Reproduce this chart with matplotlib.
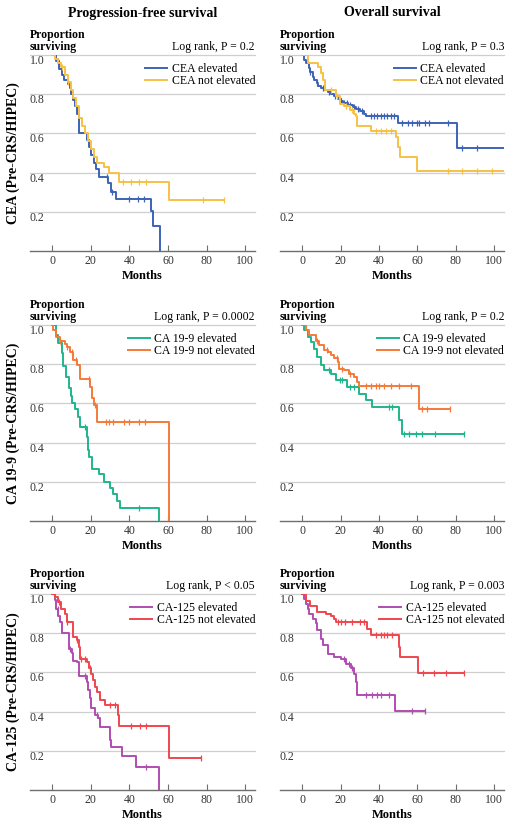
import numpy as np
import matplotlib
matplotlib.use("Agg")
import matplotlib.pyplot as plt

# --- Dane (czas [miesiące], odsetek przeżywających) ---
# PFS, CEA
pfs_cea_el_t = [2, 3.5, 5, 6, 8, 9, 9.5, 11, 12, 13, 13.8, 17.8, 18.8, 20, 21.5, 22.5, 24, 29, 30.5, 33, 51, 52.3, 55.7]
pfs_cea_el_s = [0.97, 0.93, 0.90, 0.87, 0.85, 0.83, 0.80, 0.77, 0.74, 0.70, 0.60, 0.565, 0.53, 0.49, 0.45, 0.42, 0.38, 0.345, 0.30, 0.265, 0.205, 0.13, 0.0]
pfs_cea_el_c = [3, 28.5, 31, 40, 44.5, 47.5]
pfs_cea_nel_t = [1.5, 3, 4.5, 6.5, 8, 9.5, 11, 12.5, 14, 15.5, 17, 18.5, 20, 21.5, 23, 27, 29.5, 34.5, 60.3]
pfs_cea_nel_s = [0.98, 0.96, 0.94, 0.90, 0.86, 0.82, 0.78, 0.74, 0.68, 0.64, 0.60, 0.56, 0.52, 0.48, 0.45, 0.43, 0.40, 0.35, 0.26]
pfs_cea_nel_c = [5, 8, 36.5, 41, 45, 48.5, 78, 89]

# OS, CEA
os_cea_el_t = [1, 2, 3.5, 4, 5.5, 6, 7.5, 8.5, 10, 12, 13.5, 15, 16.5, 18.5, 20, 21.5, 24, 26.5, 28, 30, 32, 33, 50, 80.3]
os_cea_el_s = [0.975, 0.957, 0.935, 0.915, 0.89, 0.87, 0.855, 0.84, 0.83, 0.82, 0.81, 0.80, 0.79, 0.775, 0.765, 0.755, 0.745, 0.735, 0.725, 0.715, 0.70, 0.69, 0.653, 0.523]
os_cea_el_c = [4, 8, 11, 14, 17, 20, 22, 23.5, 25, 27, 29, 31, 35.7, 37.5, 39, 41, 42.5, 44, 46, 48,
               52, 55, 57.3, 59.5, 61, 64, 66, 76, 83, 91, 110]
os_cea_nel_t = [3, 8.5, 10, 11, 12, 17.5, 19.5, 22, 25, 27, 28, 28.5, 36, 49, 50, 51, 60]
os_cea_nel_s = [0.96, 0.94, 0.91, 0.87, 0.82, 0.79, 0.75, 0.74, 0.72, 0.70, 0.69, 0.64, 0.61, 0.58, 0.53, 0.48, 0.407]
os_cea_nel_c = [15, 18, 23, 26, 38.5, 41, 43.5, 46, 76, 83, 91, 99, 110]

# PFS, CA 19-9
pfs_ca19_el_t = [2.2, 3, 5, 5.8, 7, 8.5, 9.5, 10.5, 12, 13.5, 14.5, 18, 18.6, 19.3, 20.5, 24.3, 27, 30, 31.5, 33.3, 35, 55.3]
pfs_ca19_el_s = [0.95, 0.91, 0.855, 0.79, 0.735, 0.68, 0.64, 0.60, 0.57, 0.53, 0.48, 0.427, 0.36, 0.325, 0.265, 0.24, 0.20, 0.17, 0.137, 0.103, 0.068, 0.0]
pfs_ca19_el_c = [4.5, 17, 45]
pfs_ca19_nel_t = [0.5, 2.2, 4, 6.5, 7.5, 9, 11, 12.7, 14.2, 19.5, 20.5, 21.7, 23, 60.3]
pfs_ca19_nel_s = [0.975, 0.94, 0.92, 0.905, 0.89, 0.86, 0.82, 0.795, 0.726, 0.684, 0.63, 0.59, 0.504, 0.0]
pfs_ca19_nel_c = [4, 7.5, 10, 12.5, 19, 22, 28, 29.5, 31.5, 37, 40, 45, 48]

# OS, CA 19-9
os_ca19_el_t = [1.2, 3, 4.7, 6.4, 8, 9.8, 11.5, 15, 17.6, 23.5, 29.7, 33.2, 36.6, 50.4, 51.8]
os_ca19_el_s = [0.974, 0.94, 0.915, 0.88, 0.838, 0.795, 0.77, 0.752, 0.718, 0.684, 0.65, 0.615, 0.58, 0.513, 0.444]
os_ca19_el_c = [14, 19.5, 21, 25, 27, 45, 47, 53, 55.5, 59, 62.5, 69, 84]
os_ca19_nel_t = [2, 3.8, 7.3, 9, 11.6, 13.3, 15, 16.8, 18.5, 19.3, 22, 24.5, 27, 28.8, 29.7, 60.8]
os_ca19_nel_s = [0.974, 0.95, 0.92, 0.90, 0.87, 0.86, 0.846, 0.83, 0.81, 0.778, 0.77, 0.752, 0.735, 0.709, 0.687, 0.573]
os_ca19_nel_c = [8, 13, 18, 21, 25, 33, 35.7, 38.3, 40, 42.6, 46, 50.4, 56.5, 62.5, 65, 77]

# PFS, CA-125
pfs_ca125_el_t = [1.4, 2.2, 3.1, 4, 5.2, 8.5, 10, 10.9, 12.9, 13.8, 18, 18.6, 19.5, 20.3, 22, 23.8, 24.7, 30, 30.5, 36, 43.6, 55.2]
pfs_ca125_el_s = [0.968, 0.925, 0.89, 0.857, 0.80, 0.72, 0.70, 0.66, 0.654, 0.58, 0.55, 0.51, 0.467, 0.416, 0.382, 0.365, 0.32, 0.255, 0.217, 0.173, 0.115, 0.0]
pfs_ca125_el_c = [3, 9, 17, 23, 48.8]
pfs_ca125_nel_t = [1.4, 3.1, 4.8, 6.6, 7.4, 10.9, 12.6, 14, 14.5, 18, 19, 20.3, 21.2, 22, 23.3, 24.7, 27.2, 34, 34.7, 60.3]
pfs_ca125_nel_s = [0.985, 0.96, 0.925, 0.90, 0.857, 0.78, 0.764, 0.73, 0.67, 0.654, 0.62, 0.594, 0.56, 0.526, 0.50, 0.458, 0.433, 0.382, 0.326, 0.165]
pfs_ca125_nel_c = [3.6, 7.4, 12.6, 15, 17, 19.5, 29.8, 32.4, 41, 45.3, 48.8, 77.2]

# OS, CA-125
os_ca125_el_t = [1.2, 2, 2.9, 3.8, 5.5, 7.3, 8, 9.8, 10.7, 13.3, 16.8, 20.2, 22.8, 25.4, 27.1, 28, 28.8, 48.4]
os_ca125_el_s = [0.976, 0.95, 0.925, 0.90, 0.874, 0.85, 0.815, 0.772, 0.738, 0.696, 0.68, 0.67, 0.645, 0.62, 0.594, 0.55, 0.484, 0.402]
os_ca125_el_c = [22, 24.5, 26, 33, 36.6, 39, 41, 45.3, 57, 64]
os_ca125_nel_t = [2, 4, 8, 12.5, 15, 16.8, 17.6, 34, 35.7, 50.4, 51.1, 60.4]
os_ca125_nel_s = [0.965, 0.94, 0.91, 0.90, 0.89, 0.874, 0.857, 0.823, 0.79, 0.73, 0.68, 0.598]
os_ca125_nel_c = [18.5, 20, 22.5, 26, 30, 32, 38.3, 41, 42.6, 44.4, 47, 63, 68.5, 74.6, 84]

col_titles = ["Progression-free survival", "Overall survival"]
row_labels = ["CEA (Pre-CRS/HIPEC)", "CA 19-9 (Pre-CRS/HIPEC)", "CA-125 (Pre-CRS/HIPEC)"]
p_values = [["Log rank, P = 0.2", "Log rank, P = 0.3"],
            ["Log rank, P = 0.0002", "Log rank, P = 0.2"],
            ["Log rank, P < 0.05", "Log rank, P = 0.003"]]
legend_labels = [["CEA elevated", "CEA not elevated"],
                 ["CA 19-9 elevated", "CA 19-9 not elevated"],
                 ["CA-125 elevated", "CA-125 not elevated"]]
x_ticks = [0, 20, 40, 60, 80, 100]
y_ticks = [0.2, 0.4, 0.6, 0.8, 1.0]

COLORS = [("#3d63b8", "#f6c144"), ("#1fb68a", "#f47a3a"), ("#b04db0", "#f0464e")]
FONT = "Liberation Serif"


def km_curve(ax, times, surv, cens, color, label):
    """Rysuje krzywą Kaplana-Meiera (schodkową) z oznaczeniami cenzurowania."""
    times = np.asarray(times, dtype=float)
    surv = np.asarray(surv, dtype=float)
    end = max(times[-1], max(cens)) if surv[-1] > 0 else times[-1]
    t = np.concatenate([[0.0], times, [end]])
    s = np.concatenate([[1.0], surv, [surv[-1]]])
    ax.step(t, s, where="post", color=color, lw=1.4, label=label, zorder=3)
    # wartość funkcji przeżycia w chwilach cenzurowania
    cens = np.asarray(cens, dtype=float)
    idx = np.searchsorted(t, cens, side="right") - 1
    ax.plot(cens, s[idx], ls="none", marker="|", ms=4.5, mew=0.9, color=color, zorder=3)


def style_axes(ax, p_text):
    ax.set_xlim(-11.5, 105)
    ax.set_ylim(0, 1.0)
    for side in ("left", "right", "top"):
        ax.spines[side].set_visible(False)
    ax.spines["bottom"].set_color("#6e6e6e")
    ax.spines["bottom"].set_linewidth(1.0)
    ax.set_xticks(x_ticks)
    ax.set_xticklabels([str(v) for v in x_ticks], family=FONT, fontsize=8.5, color="#333333")
    ax.tick_params(axis="x", direction="in", length=4, width=0.8, color="#6e6e6e", pad=3)
    ax.set_yticks(y_ticks)
    ax.set_yticklabels(["%.1f" % v for v in y_ticks], family=FONT, fontsize=8.5, color="#333333",
                       ha="left", va="top")
    ax.tick_params(axis="y", length=0, pad=0)
    ax.grid(axis="y", color="#cfcfcf", lw=0.9)
    for gl in ax.get_ygridlines():
        gl.set_clip_on(False)
    ax.set_xlabel("Months", family=FONT, fontsize=9, fontweight="bold", labelpad=2)
    ax.text(0.0, 1.01, "Proportion\nsurviving", transform=ax.transAxes, ha="left", va="bottom",
            family=FONT, fontsize=8.5, fontweight="bold", linespacing=1.0)
    ax.text(1.0, 1.01, p_text, transform=ax.transAxes, ha="right", va="bottom",
            family=FONT, fontsize=8.5)


def main():
    fig = plt.figure(figsize=(5.12, 8.26), dpi=100)
    W, H = 512.0, 826.0
    lefts = [30, 280]
    widths = [225, 224]
    tops = [55, 325, 594]
    height = 196

    curves = [
        [((pfs_cea_el_t, pfs_cea_el_s, pfs_cea_el_c), (pfs_cea_nel_t, pfs_cea_nel_s, pfs_cea_nel_c)),
         ((os_cea_el_t, os_cea_el_s, os_cea_el_c), (os_cea_nel_t, os_cea_nel_s, os_cea_nel_c))],
        [((pfs_ca19_el_t, pfs_ca19_el_s, pfs_ca19_el_c), (pfs_ca19_nel_t, pfs_ca19_nel_s, pfs_ca19_nel_c)),
         ((os_ca19_el_t, os_ca19_el_s, os_ca19_el_c), (os_ca19_nel_t, os_ca19_nel_s, os_ca19_nel_c))],
        [((pfs_ca125_el_t, pfs_ca125_el_s, pfs_ca125_el_c), (pfs_ca125_nel_t, pfs_ca125_nel_s, pfs_ca125_nel_c)),
         ((os_ca125_el_t, os_ca125_el_s, os_ca125_el_c), (os_ca125_nel_t, os_ca125_nel_s, os_ca125_nel_c))],
    ]

    for r in range(3):
        for c in range(2):
            ax = fig.add_axes([lefts[c] / W, 1 - (tops[r] + height) / H, widths[c] / W, height / H])
            style_axes(ax, p_values[r][c])
            for k in range(2):
                t, s, cens = curves[r][c][k]
                km_curve(ax, t, s, cens, COLORS[r][k], legend_labels[r][k])
            ax.legend(loc="upper right", bbox_to_anchor=(1.0, 0.96), frameon=False,
                      prop={"family": FONT, "size": 8.5}, handlelength=1.9, handletextpad=0.35,
                      labelspacing=0.05, borderpad=0, borderaxespad=0)
        fig.text(13 / W, 1 - (tops[r] + height / 2) / H, row_labels[r], rotation=90,
                 ha="center", va="center", family=FONT, fontsize=10, fontweight="bold")

    for c in range(2):
        fig.text((lefts[c] + widths[c] / 2) / W, 1 - 13 / H, col_titles[c], ha="center", va="center",
                 family=FONT, fontsize=10, fontweight="bold")

    fig.savefig("out.png", dpi=100)


if __name__ == "__main__":
    main()
